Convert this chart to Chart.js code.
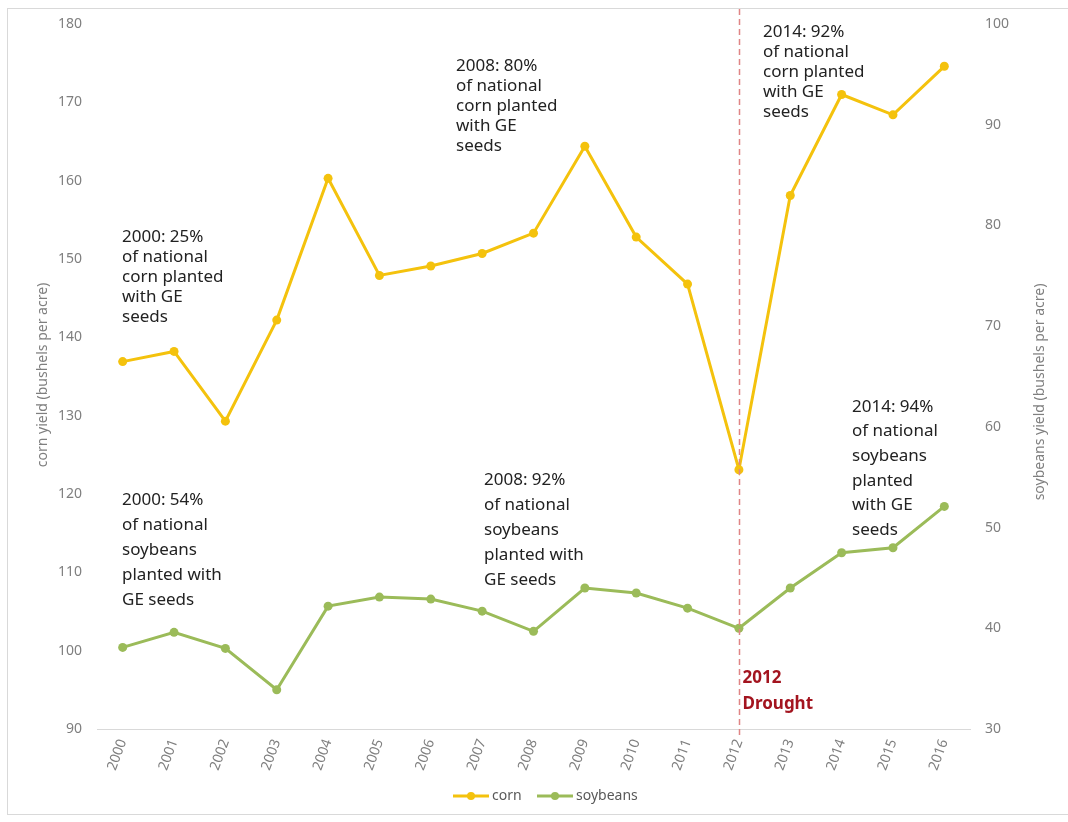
<!DOCTYPE html>
<html>
<head>
<meta charset="utf-8">
<script src="https://cdn.jsdelivr.net/npm/chart.js@4"></script>
<style>
  html, body { margin: 0; padding: 0; background: #fff; }
  canvas { display: block; }
</style>
</head>
<body>
<canvas id="yieldChart" width="1068" height="822"></canvas>
<script>
const years = ['2000', '2001', '2002', '2003', '2004', '2005', '2006', '2007', '2008',
  '2009', '2010', '2011', '2012', '2013', '2014', '2015', '2016'];
const cornYield = [136.9, 138.2, 129.3, 142.2, 160.3, 147.9, 149.1, 150.7, 153.3,
  164.4, 152.8, 146.8, 123.1, 158.1, 171.0, 168.4, 174.6];
const soyYield = [38.1, 39.6, 38.0, 33.9, 42.2, 43.1, 42.9, 41.7, 39.7,
  44.0, 43.5, 42.0, 40.0, 44.0, 47.5, 48.0, 52.1];
const cornTicks = [90, 180];
const soyTicks = [30, 100];

const CORN = '#F4C20D';
const SOY = '#9BBB59';
const GREY = '#7f7f7f';
const FONT = "'Noto Sans', sans-serif";

const notes = [
  { lines: ['2000: 25%', 'of national', 'corn planted', 'with GE', 'seeds'], x: 122, y: 237, gap: 20 },
  { lines: ['2008: 80%', 'of national', 'corn planted', 'with GE', 'seeds'], x: 456, y: 66, gap: 20 },
  { lines: ['2014: 92%', 'of national', 'corn planted', 'with GE', 'seeds'], x: 763, y: 32, gap: 20 },
  { lines: ['2000: 54%', 'of national', 'soybeans', 'planted with', 'GE seeds'], x: 122, y: 500, gap: 25 },
  { lines: ['2008: 92%', 'of national', 'soybeans', 'planted with', 'GE seeds'], x: 484, y: 480, gap: 25 },
  { lines: ['2014: 94%', 'of national', 'soybeans', 'planted', 'with GE', 'seeds'], x: 852, y: 407, gap: 24.6 }
];

// frame, drought line, notes, axis titles and legend
const extras = {
  id: 'extras',
  afterDraw(chart) {
    const ctx = chart.ctx;
    const area = chart.chartArea;
    const x = chart.scales.x;
    ctx.save();

    ctx.strokeStyle = '#d9d9d9';
    ctx.lineWidth = 1;
    ctx.strokeRect(7.5, 8.5, 1100, 806);

    const dx = Math.round(x.getPixelForValue(12)) + 0.5;
    ctx.strokeStyle = '#e08585';
    ctx.lineWidth = 1.5;
    ctx.setLineDash([6, 4]);
    ctx.beginPath();
    ctx.moveTo(dx, 9);
    ctx.lineTo(dx, area.bottom + 8);
    ctx.stroke();
    ctx.setLineDash([]);

    ctx.fillStyle = '#a3141f';
    ctx.font = 'bold 17px ' + FONT;
    ctx.textBaseline = 'middle';
    ctx.textAlign = 'left';
    ctx.fillText('2012', dx + 3, 678);
    ctx.fillText('Drought', dx + 3, 704);

    ctx.fillStyle = '#222';
    ctx.font = '17px ' + FONT;
    notes.forEach(n => {
      n.lines.forEach((t, i) => ctx.fillText(t, n.x, n.y + i * n.gap));
    });

    ctx.fillStyle = GREY;
    ctx.font = '14px ' + FONT;
    ctx.textAlign = 'center';
    ctx.save();
    ctx.translate(43, 375);
    ctx.rotate(-Math.PI / 2);
    ctx.fillText('corn yield (bushels per acre)', 0, 0);
    ctx.restore();
    ctx.save();
    ctx.translate(1040, 392);
    ctx.rotate(-Math.PI / 2);
    ctx.fillText('soybeans yield (bushels per acre)', 0, 0);
    ctx.restore();

    // legend
    const ly = 796;
    const items = [
      { label: 'corn', color: CORN, x0: 453 },
      { label: 'soybeans', color: SOY, x0: 537 }
    ];
    ctx.textAlign = 'left';
    items.forEach(it => {
      ctx.strokeStyle = it.color;
      ctx.lineWidth = 3;
      ctx.beginPath();
      ctx.moveTo(it.x0, ly);
      ctx.lineTo(it.x0 + 36, ly);
      ctx.stroke();
      ctx.fillStyle = it.color;
      ctx.beginPath();
      ctx.arc(it.x0 + 18, ly, 4, 0, Math.PI * 2);
      ctx.fill();
      ctx.fillStyle = '#595959';
      ctx.fillText(it.label, it.x0 + 39, ly);
    });

    ctx.restore();
  }
};

new Chart(document.getElementById('yieldChart'), {
  type: 'line',
  data: {
    labels: years,
    datasets: [
      {
        label: 'corn',
        data: cornYield,
        yAxisID: 'yCorn',
        borderColor: CORN,
        backgroundColor: CORN,
        borderWidth: 3,
        pointRadius: 4.5,
        pointBorderWidth: 0,
        tension: 0
      },
      {
        label: 'soybeans',
        data: soyYield,
        yAxisID: 'ySoy',
        borderColor: SOY,
        backgroundColor: SOY,
        borderWidth: 3,
        pointRadius: 4.5,
        pointBorderWidth: 0,
        tension: 0
      }
    ]
  },
  options: {
    responsive: false,
    animation: false,
    layout: { padding: { top: 24, bottom: 0, left: 0, right: 0 } },
    plugins: {
      legend: { display: false },
      tooltip: { enabled: false }
    },
    scales: {
      x: {
        offset: true,
        grid: { display: false, drawTicks: false },
        border: { display: true, color: '#d9d9d9', width: 1 },
        ticks: {
          color: GREY,
          font: { family: FONT, size: 14 },
          minRotation: 70,
          maxRotation: 70,
          padding: 8
        },
        afterFit(scale) { scale.height = 93; }
      },
      yCorn: {
        position: 'left',
        min: cornTicks[0],
        max: cornTicks[1],
        grid: { display: false, drawTicks: false },
        border: { display: false },
        ticks: { stepSize: 10, color: GREY, font: { family: FONT, size: 14 }, padding: 15 },
        afterFit(scale) { scale.width = 97; }
      },
      ySoy: {
        position: 'right',
        min: soyTicks[0],
        max: soyTicks[1],
        grid: { display: false, drawTicks: false },
        border: { display: false },
        ticks: { stepSize: 10, color: GREY, font: { family: FONT, size: 14 }, padding: 15 },
        afterFit(scale) { scale.width = 98; }
      }
    }
  },
  plugins: [extras]
});
</script>
</body>
</html>
